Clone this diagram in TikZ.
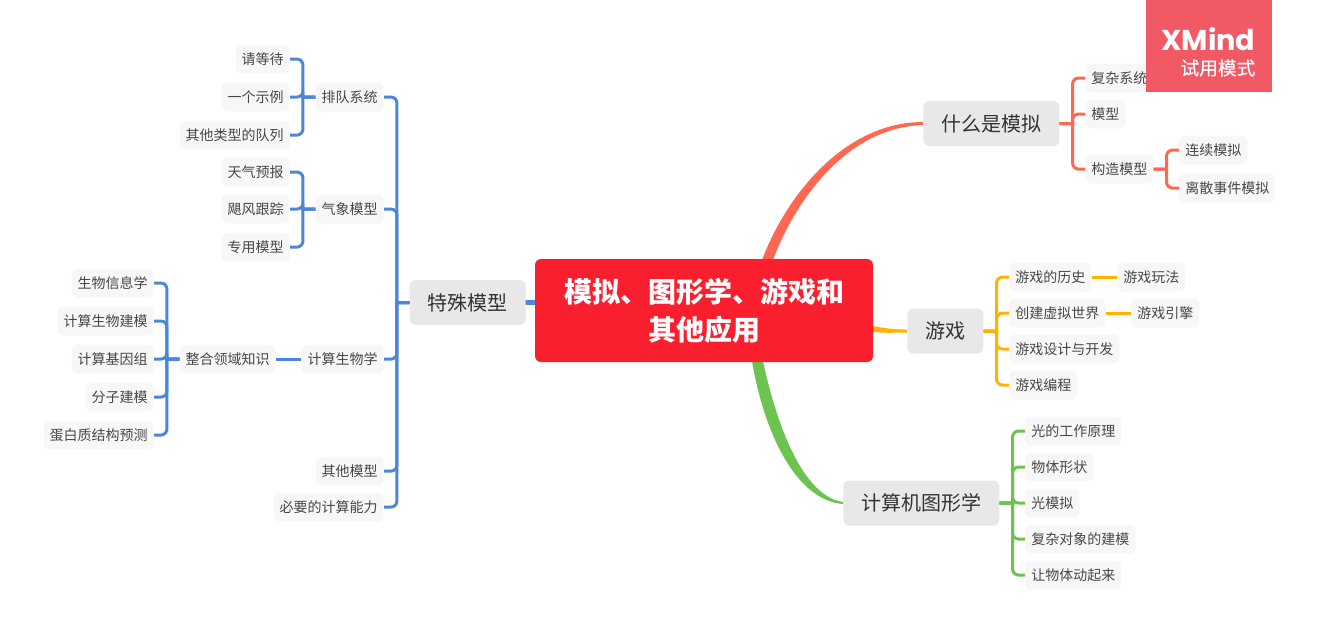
\documentclass[tikz,border=0pt]{standalone}
\usepackage{fontspec}
\setmainfont{Noto Sans CJK SC}
\newfontfamily\logofont{Poppins}
\newfontfamily\trialfont[FakeBold=0.3]{Noto Sans CJK SC}
\usetikzlibrary{backgrounds,calc}
\definecolor{corered}{HTML}{F91F2E}
\definecolor{badgered}{HTML}{F15A65}
\definecolor{simred}{HTML}{FF6753}
\definecolor{gameorange}{HTML}{FFB200}
\definecolor{cggreen}{HTML}{6CC350}
\definecolor{modelblue}{HTML}{4A86DA}
\tikzset{
  topic/.style={fill=black!9,text=black!80,rounded corners=4.5pt,inner xsep=13.5pt,inner ysep=0pt,
    minimum height=33.75pt,yshift=-0.4pt,font=\fontsize{15}{18}\selectfont},
  sub/.style={fill=black!3,text=black!72,rounded corners=4.5pt,inner xsep=4.5pt,inner ysep=0pt,
    minimum height=21.75pt,yshift=-0.4pt,font=\fontsize{10.5}{12}\selectfont},
  link/.style={line width=2.25pt},
  fork/.style={rounded corners=4.5pt}
}
\begin{document}
\begin{tikzpicture}[x=0.75pt,y=-0.75pt]
  \useasboundingbox (0,0) rectangle (1319,633);
  % centre
  \node[fill=corered,text=white,rounded corners=4.5pt,minimum width=253.5pt,minimum height=77.25pt,
    align=center,font=\fontsize{21}{28.5}\selectfont\bfseries] (core) at (704,310.5)
    {模拟、图形学、游戏和\\其他应用};
  % main topics
  \node[topic,anchor=west] (sim) at (923,123) {什么是模拟};
  \node[topic,anchor=west] (game) at (907,330.5) {游戏};
  \node[topic,anchor=west] (cg) at (843,502.5) {计算机图形学};
  \node[topic,anchor=east] (model) at (526,302) {特殊模型};
  % simulation
  \node[sub,anchor=west] (complex) at (1085,77.5) {复杂系统};
  \node[sub,anchor=west] (simmodel) at (1085,113.5) {模型};
  \node[sub,anchor=west] (build) at (1085,168.5) {构造模型};
  \node[sub,anchor=west] (cont) at (1179,149.5) {连续模拟};
  \node[sub,anchor=west] (disc) at (1179,187.5) {离散事件模拟};
  % games
  \node[sub,anchor=west] (hist) at (1009,276.5) {游戏的历史};
  \node[sub,anchor=west] (play) at (1117,276.5) {游戏玩法};
  \node[sub,anchor=west] (world) at (1009,312.5) {创建虚拟世界};
  \node[sub,anchor=west] (engine) at (1131,312.5) {游戏引擎};
  \node[sub,anchor=west] (design) at (1009,348.5) {游戏设计与开发};
  \node[sub,anchor=west] (code) at (1009,384.5) {游戏编程};
  % graphics
  \node[sub,anchor=west] (light) at (1025,430.5) {光的工作原理};
  \node[sub,anchor=west] (shape) at (1025,466.5) {物体形状};
  \node[sub,anchor=west] (lsim) at (1025,502.5) {光模拟};
  \node[sub,anchor=west] (cplx) at (1025,538.5) {复杂对象的建模};
  \node[sub,anchor=west] (anim) at (1025,574.5) {让物体动起来};
  % special models
  \node[sub,anchor=east] (queue) at (384,96.5) {排队系统};
  \node[sub,anchor=east] (wait) at (290,58.5) {请等待};
  \node[sub,anchor=east] (example) at (290,96.5) {一个示例};
  \node[sub,anchor=east] (other) at (290,134.5) {其他类型的队列};
  \node[sub,anchor=east] (weather) at (384,208.5) {气象模型};
  \node[sub,anchor=east] (forecast) at (290,171.5) {天气预报};
  \node[sub,anchor=east] (storm) at (290,208.5) {飓风跟踪};
  \node[sub,anchor=east] (special) at (290,246.5) {专用模型};
  \node[sub,anchor=east] (compbio) at (384,358.5) {计算生物学};
  \node[sub,anchor=east] (domain) at (276,358.5) {整合领域知识};
  \node[sub,anchor=east] (bioinf) at (154,282.5) {生物信息学};
  \node[sub,anchor=east] (biomod) at (154,320.5) {计算生物建模};
  \node[sub,anchor=east] (genome) at (154,358.5) {计算基因组};
  \node[sub,anchor=east] (molec) at (154,396.5) {分子建模};
  \node[sub,anchor=east] (protein) at (154,434.5) {蛋白质结构预测};
  \node[sub,anchor=east] (othermod) at (384,470.5) {其他模型};
  \node[sub,anchor=east] (power) at (384,506.5) {必要的计算能力};
  % branches
  \begin{scope}[on background layer]
    \fill[simred] ($(core.north)+(58,1)$) .. controls +(27,-70) and +(-75,0) .. ($(sim.west)+(0,-1.5)$)
      -- ($(sim.west)+(0,1.5)$) .. controls +(-70,2) and +(27,-70) .. ($(core.north)+(69,1)$) -- cycle;
    \fill[gameorange] ($(core.east)+(-1,15.5)$) .. controls +(12,2) and +(-14,0) .. ($(game.west)+(0,-1.5)$)
      -- ($(game.west)+(0,1.5)$) .. controls +(-14,0) and +(12,2) .. ($(core.east)+(-1,21)$) -- cycle;
    \fill[cggreen] ($(core.south)+(48,-1)$) .. controls +(12,70) and +(-48,-4) .. ($(cg.west)+(0,1)$)
      -- ($(cg.west)+(0,-1)$) .. controls +(-40,-6) and +(14,65) .. ($(core.south)+(59,-1)$) -- cycle;
    \fill[modelblue] ($(core.west)+(1,-11)$) rectangle ($(model.east)+(-1,2.5)$);
  \end{scope}
  \foreach \kid in {complex,simmodel,build}
    \draw[link,simred] (sim.east) -- ++(13,0) [fork] |- (\kid.west);
  \foreach \kid in {cont,disc}
    \draw[link,simred] (build.east) -- ++(13,0) [fork] |- (\kid.west);
  \foreach \kid in {hist,world,design,code}
    \draw[link,gameorange] (game.east) -- ++(13,0) [fork] |- (\kid.west);
  \draw[link,gameorange] (hist) -- (play);
  \draw[link,gameorange] (world) -- (engine);
  \foreach \kid in {light,shape,lsim,cplx,anim}
    \draw[link,cggreen] (cg.east) -- ++(13,0) [fork] |- (\kid.west);
  \foreach \kid in {queue,weather,compbio,othermod,power}
    \draw[link,modelblue] (model.west) -- ++(-12.5,0) [fork] |- (\kid.east);
  \foreach \kid in {wait,example,other}
    \draw[link,modelblue] (queue.west) -- ++(-12.5,0) [fork] |- (\kid.east);
  \foreach \kid in {forecast,storm,special}
    \draw[link,modelblue] (weather.west) -- ++(-12.5,0) [fork] |- (\kid.east);
  \draw[link,modelblue] (compbio) -- (domain);
  \foreach \kid in {bioinf,biomod,genome,molec,protein}
    \draw[link,modelblue] (domain.west) -- ++(-12.5,0) [fork] |- (\kid.east);
  % trial badge
  \node[fill=badgered,anchor=north west,minimum width=94.5pt,minimum height=69pt] (badge) at (1146,0) {};
  \node[text=white,anchor=east,inner sep=0pt,font=\logofont\bfseries\fontsize{21.5}{24}\selectfont] (logo)
    at ($(badge.north east)+(-17,39)$) {XMind};
  \node[text=white,anchor=east,inner sep=0pt,font=\trialfont\fontsize{14}{16}\selectfont] (trial)
    at ($(badge.north east)+(-17,68)$) {试用模式};
\end{tikzpicture}
\end{document}
